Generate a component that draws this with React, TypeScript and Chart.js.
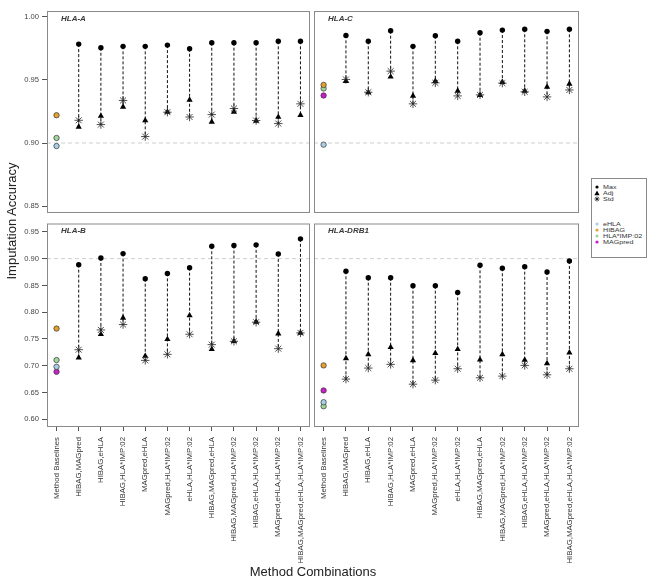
import React, { useEffect, useRef } from "react";
import { Chart, registerables } from "chart.js";
Chart.register(...registerables);

const categories = [
  "Method Baselines",
  "HIBAG,MAGpred",
  "HIBAG,eHLA",
  "HIBAG,HLA*IMP:02",
  "MAGpred,eHLA",
  "MAGpred,HLA*IMP:02",
  "eHLA,HLA*IMP:02",
  "HIBAG,MAGpred,eHLA",
  "HIBAG,MAGpred,HLA*IMP:02",
  "HIBAG,eHLA,HLA*IMP:02",
  "MAGpred,eHLA,HLA*IMP:02",
  "HIBAG,MAGpred,eHLA,HLA*IMP:02",
];

const baselineMethods = ["eHLA", "HIBAG", "HLA*IMP:02", "MAGpred"];
const baselineColors = ["#a9cfe6", "#e2a030", "#9fd69a", "#c81ec8"];

// HLA-A
const hlaA_max = [0.9783, 0.9754, 0.9765, 0.9765, 0.9775, 0.9746, 0.9794, 0.9794, 0.9794, 0.9805, 0.9805];
const hlaA_adj = [0.9127, 0.9214, 0.9286, 0.9178, 0.9246, 0.9341, 0.9167, 0.9246, 0.9175, 0.9206, 0.922];
const hlaA_std = [0.918, 0.9146, 0.9337, 0.9051, 0.9244, 0.9206, 0.9225, 0.9273, 0.9178, 0.9154, 0.931];
const hlaA_base = [0.8976, 0.922, 0.904, null];

// HLA-C
const hlaC_max = [0.9852, 0.9805, 0.9889, 0.9765, 0.9849, 0.9805, 0.9873, 0.9894, 0.99, 0.9884, 0.99];
const hlaC_adj = [0.949, 0.94, 0.9524, 0.9373, 0.949, 0.9413, 0.9379, 0.9482, 0.9413, 0.9444, 0.9468];
const hlaC_std = [0.9503, 0.9402, 0.9569, 0.931, 0.9476, 0.9373, 0.9381, 0.9474, 0.9405, 0.9365, 0.942];
const hlaC_base = [0.8987, 0.946, 0.9432, 0.9376];

// HLA-B
const hlaB_max = [0.8888, 0.9013, 0.9094, 0.8625, 0.8724, 0.8831, 0.9231, 0.9244, 0.9257, 0.9088, 0.9369];
const hlaB_adj = [0.715, 0.7588, 0.7894, 0.7181, 0.7494, 0.7937, 0.7307, 0.7457, 0.7819, 0.76, 0.7613];
const hlaB_std = [0.73, 0.7669, 0.7769, 0.71, 0.7213, 0.7588, 0.7394, 0.7456, 0.7813, 0.7319, 0.7613];
const hlaB_base = [0.698, 0.7694, 0.7106, 0.6887];

// HLA-DRB1
const hlaDRB1_max = [0.8763, 0.8644, 0.8644, 0.8494, 0.8494, 0.8369, 0.8875, 0.8819, 0.885, 0.875, 0.8957];
const hlaDRB1_adj = [0.7137, 0.7213, 0.7344, 0.71, 0.7232, 0.7307, 0.7112, 0.7213, 0.7106, 0.7044, 0.7243];
const hlaDRB1_std = [0.675, 0.6956, 0.7025, 0.6656, 0.6731, 0.6944, 0.6775, 0.6806, 0.7006, 0.6831, 0.6944];
const hlaDRB1_base = [0.6319, 0.7006, 0.6244, 0.6538];

const topTicks = [0.85, 0.9, 0.95, 1.0];
const bottomTicks = [0.6, 0.65, 0.7, 0.75, 0.8, 0.85, 0.9, 0.95];
const referenceLine = 0.9;

const FONT = "'Liberation Sans', Arial, sans-serif";
const X_MIN = -0.43;
const X_MAX = 11.43;

type PanelProps = {
  title: string;
  max: number[];
  adj: number[];
  std: number[];
  base: (number | null)[];
  yMin: number;
  yMax: number;
  yTicks: number[];
  showY: boolean;
  showX: boolean;
  left: number;
  top: number;
  width: number;
  height: number;
  padTop: number;
  xAxisHeight: number;
};

const panelDecor = {
  id: "panelDecor",
  afterDraw(chart: any, _args: any, opts: any) {
    const { ctx, chartArea } = chart;
    ctx.save();
    ctx.strokeStyle = "#8a8a8a";
    ctx.lineWidth = 1;
    ctx.strokeRect(chartArea.left + 0.5, chartArea.top + 0.5, chartArea.right - chartArea.left - 1, chartArea.bottom - chartArea.top - 1);
    ctx.fillStyle = "#3a3a3a";
    ctx.font = `italic bold 8px ${FONT}`;
    ctx.textBaseline = "middle";
    ctx.textAlign = "left";
    ctx.fillText(opts.title || "", chartArea.left + 14, chartArea.top + 7.5);
    ctx.restore();
  },
};

function Panel(p: PanelProps) {
  const ref = useRef<HTMLCanvasElement | null>(null);
  useEffect(() => {
    if (!ref.current) return;
    const stems: any[] = [];
    p.max.forEach((m, i) => {
      stems.push({ x: i + 1, y: m });
      stems.push({ x: i + 1, y: Math.min(p.adj[i], p.std[i]) });
      stems.push({ x: i + 1, y: null });
    });
    const baseSets = baselineMethods.map((name, k) => ({
      label: name,
      data: p.base[k] == null ? [] : [{ x: 0, y: p.base[k] }],
      pointStyle: "circle",
      pointRadius: 2.7,
      backgroundColor: baselineColors[k],
      borderColor: "#333",
      borderWidth: 0.7,
      order: 1,
    }));
    const chart = new Chart(ref.current, {
      type: "scatter",
      data: {
        datasets: [
          {
            label: "ref",
            data: [
              { x: X_MIN, y: referenceLine },
              { x: X_MAX, y: referenceLine },
            ],
            showLine: true,
            borderColor: "#cfcfcf",
            borderWidth: 1,
            borderDash: [4, 3],
            pointRadius: 0,
            order: 30,
          },
          {
            label: "stems",
            data: stems,
            showLine: true,
            spanGaps: false,
            borderColor: "#111",
            borderWidth: 1,
            borderDash: [3, 2],
            pointRadius: 0,
            order: 20,
          },
          {
            label: "Max",
            data: p.max.map((v, i) => ({ x: i + 1, y: v })),
            pointStyle: "circle",
            pointRadius: 2.7,
            backgroundColor: "#000",
            borderColor: "#000",
            borderWidth: 0,
            order: 3,
          },
          {
            label: "Adj",
            data: p.adj.map((v, i) => ({ x: i + 1, y: v })),
            pointStyle: "triangle",
            pointRadius: 3.6,
            backgroundColor: "#000",
            borderColor: "#000",
            borderWidth: 0,
            order: 4,
          },
          {
            label: "Std",
            data: p.std.map((v, i) => ({ x: i + 1, y: v })),
            pointStyle: "star",
            pointRadius: 4.2,
            backgroundColor: "#222",
            borderColor: "#222",
            borderWidth: 0.8,
            order: 2,
          },
          ...baseSets,
        ] as any,
      },
      options: {
        animation: false,
        responsive: false,
        maintainAspectRatio: false,
        events: [],
        layout: { autoPadding: false, padding: { top: p.padTop, left: 0, right: 0, bottom: 0 } },
        plugins: {
          legend: { display: false },
          tooltip: { enabled: false },
          panelDecor: { title: p.title },
        } as any,
        scales: {
          x: {
            type: "linear",
            min: X_MIN,
            max: X_MAX,
            display: p.showX,
            afterBuildTicks: (axis: any) => {
              axis.ticks = categories.map((_, i) => ({ value: i }));
            },
            afterFit: (axis: any) => {
              axis.height = p.showX ? p.xAxisHeight : 0;
              axis.paddingLeft = 0;
              axis.paddingRight = 0;
            },
            ticks: {
              autoSkip: false,
              minRotation: 90,
              maxRotation: 90,
              padding: 6,
              color: "#333",
              font: { family: FONT, size: 7.8 },
              callback: (v: any) => categories[Math.round(Number(v))] ?? "",
            },
            grid: { display: true, drawOnChartArea: false, drawTicks: true, tickLength: 4, color: "#555", tickColor: "#555" },
            border: { display: false },
          },
          y: {
            type: "linear",
            min: p.yMin,
            max: p.yMax,
            display: p.showY,
            afterBuildTicks: (axis: any) => {
              axis.ticks = p.yTicks.map((v) => ({ value: v }));
            },
            afterFit: (axis: any) => {
              axis.width = p.showY ? 47 : 0;
              axis.paddingTop = 0;
              axis.paddingBottom = 0;
            },
            ticks: {
              padding: 3,
              color: "#444",
              font: { family: FONT, size: 7.6 },
              callback: (v: any) => Number(v).toFixed(2),
            },
            grid: { display: true, drawOnChartArea: false, drawTicks: true, tickLength: 5, color: "#555", tickColor: "#555" },
            border: { display: false },
          },
        },
      } as any,
      plugins: [panelDecor],
    });
    return () => chart.destroy();
  }, []);
  return (
    <canvas
      ref={ref}
      width={p.width}
      height={p.height}
      style={{ position: "absolute", left: p.left, top: p.top, width: p.width, height: p.height }}
    />
  );
}

function Sym({ kind, color }: { kind: string; color?: string }) {
  if (kind === "circle")
    return (
      <svg width="6" height="6" style={{ position: "absolute", left: 2, top: 0 }}>
        <circle cx="3" cy="3" r="1.6" fill={color || "#000"} />
      </svg>
    );
  if (kind === "triangle")
    return (
      <svg width="6" height="6" style={{ position: "absolute", left: 2, top: 0 }}>
        <polygon points="3,0.6 5.6,5.2 0.4,5.2" fill="#000" />
      </svg>
    );
  return (
    <svg width="6" height="6" style={{ position: "absolute", left: 2, top: 0 }}>
      <g stroke="#000" strokeWidth="0.7">
        <line x1="3" y1="0.4" x2="3" y2="5.6" />
        <line x1="0.4" y1="3" x2="5.6" y2="3" />
        <line x1="1.2" y1="1.2" x2="4.8" y2="4.8" />
        <line x1="1.2" y1="4.8" x2="4.8" y2="1.2" />
      </g>
    </svg>
  );
}

function Legend() {
  const rows: { label: string; kind: string; color?: string; y: number }[] = [
    { label: "Max", kind: "circle", y: 4.5 },
    { label: "Adj", kind: "triangle", y: 10.5 },
    { label: "Std", kind: "star", y: 16.5 },
    ...baselineMethods.map((m, k) => ({ label: m, kind: "circle", color: baselineColors[k], y: 41.5 + k * 6.2 })),
  ];
  return (
    <div
      style={{
        position: "absolute",
        left: 591,
        top: 178,
        width: 56,
        height: 80,
        border: "1px solid #8a8a8a",
        boxSizing: "border-box",
        fontFamily: FONT,
        fontSize: 6.2,
        color: "#333",
      }}
    >
      {rows.map((r) => (
        <div key={r.label} style={{ position: "absolute", left: 0, top: r.y, height: 6, width: 54 }}>
          <Sym kind={r.kind} color={r.color} />
          <span
            style={{
              position: "absolute",
              left: 11,
              top: -1,
              lineHeight: "8px",
              whiteSpace: "nowrap",
              transform: "scaleX(1.15)",
              transformOrigin: "left center",
            }}
          >
            {r.label}
          </span>
        </div>
      ))}
    </div>
  );
}

export default function App() {
  const panels: PanelProps[] = [
    { title: "HLA-A", max: hlaA_max, adj: hlaA_adj, std: hlaA_std, base: hlaA_base, yMin: 0.8446, yMax: 1.0045, yTicks: topTicks, showY: true, showX: false, left: 0, top: 0, width: 310, height: 213, padTop: 11, xAxisHeight: 0 },
    { title: "HLA-C", max: hlaC_max, adj: hlaC_adj, std: hlaC_std, base: hlaC_base, yMin: 0.8446, yMax: 1.0045, yTicks: topTicks, showY: false, showX: false, left: 314, top: 0, width: 265, height: 213, padTop: 11, xAxisHeight: 0 },
    { title: "HLA-B", max: hlaB_max, adj: hlaB_adj, std: hlaB_std, base: hlaB_base, yMin: 0.5856, yMax: 0.9656, yTicks: bottomTicks, showY: true, showX: true, left: 0, top: 213, width: 310, height: 375, padTop: 10.5, xAxisHeight: 161 },
    { title: "HLA-DRB1", max: hlaDRB1_max, adj: hlaDRB1_adj, std: hlaDRB1_std, base: hlaDRB1_base, yMin: 0.5856, yMax: 0.9656, yTicks: bottomTicks, showY: false, showX: true, left: 314, top: 213, width: 265, height: 375, padTop: 10.5, xAxisHeight: 161 },
  ];
  return (
    <div style={{ position: "absolute", left: 0, top: 0, width: 654, height: 588, background: "#fff", overflow: "hidden" }}>
      {panels.map((p) => (
        <Panel key={p.title} {...p} />
      ))}
      <div
        style={{
          position: "absolute",
          left: 12 - 100,
          top: 221 - 9,
          width: 200,
          height: 18,
          lineHeight: "18px",
          textAlign: "center",
          transform: "rotate(-90deg)",
          fontFamily: FONT,
          fontSize: 13,
          color: "#222",
        }}
      >
        Imputation Accuracy
      </div>
      <div
        style={{
          position: "absolute",
          left: 313 - 150,
          top: 572 - 9,
          width: 300,
          height: 18,
          lineHeight: "18px",
          textAlign: "center",
          fontFamily: FONT,
          fontSize: 13,
          color: "#222",
        }}
      >
        Method Combinations
      </div>
      <Legend />
    </div>
  );
}
